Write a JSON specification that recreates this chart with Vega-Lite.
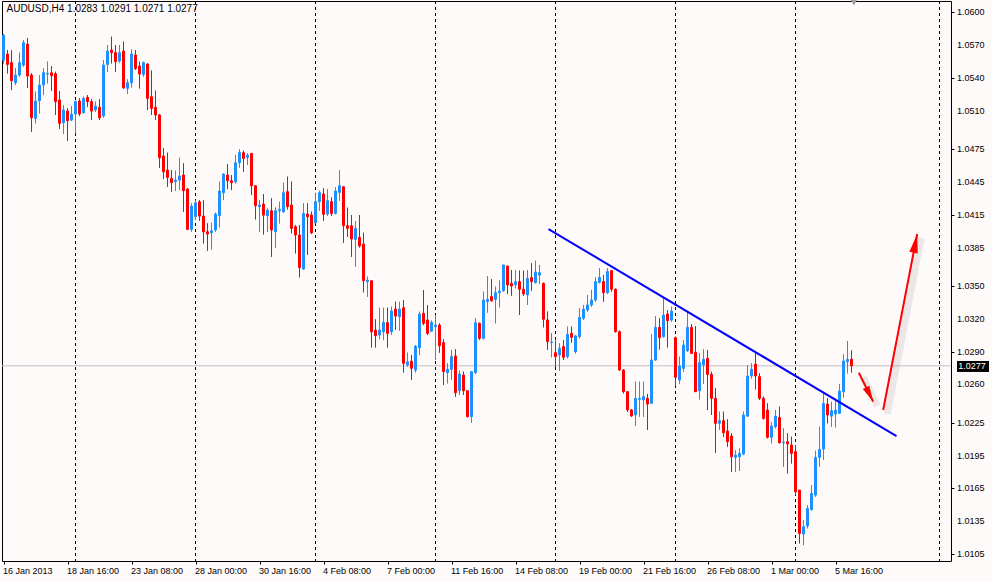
{
  "$schema": "https://vega.github.io/schema/vega-lite/v6.json",
  "width": 949,
  "height": 560,
  "autosize": {"type": "none"},
  "padding": {"left": 2, "top": 1, "right": 41, "bottom": 21},
  "background": "#FFFAFA",
  "config": {
    "view": {"stroke": "#000000", "strokeWidth": 1, "fill": "#FFFAFA"},
    "scale": {"continuousPadding": 0}
  },
  "datasets": {
    "candles": [
      {"bar":0,"open":1.0556,"high":1.0580,"low":1.0553,"close":1.0579},
      {"bar":1,"open":1.05617,"high":1.05653,"low":1.05440,"close":1.05522},
      {"bar":2,"open":1.05538,"high":1.05653,"low":1.05288,"close":1.05373},
      {"bar":3,"open":1.05355,"high":1.05486,"low":1.05334,"close":1.05425},
      {"bar":4,"open":1.05425,"high":1.05629,"low":1.05410,"close":1.05538},
      {"bar":5,"open":1.05516,"high":1.05745,"low":1.05501,"close":1.05720},
      {"bar":6,"open":1.05708,"high":1.05763,"low":1.05307,"close":1.05416},
      {"bar":7,"open":1.05425,"high":1.05440,"low":1.04908,"close":1.05035},
      {"bar":8,"open":1.05029,"high":1.05273,"low":1.04984,"close":1.05188},
      {"bar":9,"open":1.05191,"high":1.05425,"low":1.05075,"close":1.05334},
      {"bar":10,"open":1.05334,"high":1.05486,"low":1.05242,"close":1.05446},
      {"bar":11,"open":1.05434,"high":1.05547,"low":1.05349,"close":1.05440},
      {"bar":12,"open":1.05446,"high":1.05507,"low":1.05282,"close":1.05419},
      {"bar":13,"open":1.05437,"high":1.05455,"low":1.05060,"close":1.05182},
      {"bar":14,"open":1.05197,"high":1.05279,"low":1.04932,"close":1.04984},
      {"bar":15,"open":1.04990,"high":1.05151,"low":1.04886,"close":1.05106},
      {"bar":16,"open":1.05096,"high":1.05121,"low":1.04825,"close":1.05008},
      {"bar":17,"open":1.05014,"high":1.05142,"low":1.05005,"close":1.05069},
      {"bar":18,"open":1.05069,"high":1.05191,"low":1.04892,"close":1.05182},
      {"bar":19,"open":1.05188,"high":1.05212,"low":1.05051,"close":1.05069},
      {"bar":20,"open":1.05081,"high":1.05227,"low":1.05075,"close":1.05212},
      {"bar":21,"open":1.05221,"high":1.05242,"low":1.05136,"close":1.05182},
      {"bar":22,"open":1.05182,"high":1.05203,"low":1.05014,"close":1.05096},
      {"bar":23,"open":1.05106,"high":1.05182,"low":1.05090,"close":1.05142},
      {"bar":24,"open":1.05130,"high":1.05203,"low":1.05014,"close":1.05035},
      {"bar":25,"open":1.05051,"high":1.05562,"low":1.05038,"close":1.05516},
      {"bar":26,"open":1.05522,"high":1.05699,"low":1.05455,"close":1.05644},
      {"bar":27,"open":1.05653,"high":1.05775,"low":1.05532,"close":1.05629},
      {"bar":28,"open":1.05629,"high":1.05699,"low":1.05455,"close":1.05547},
      {"bar":29,"open":1.05553,"high":1.05699,"low":1.05538,"close":1.05629},
      {"bar":30,"open":1.05644,"high":1.05729,"low":1.05297,"close":1.05309},
      {"bar":31,"open":1.05303,"high":1.05385,"low":1.05252,"close":1.05355},
      {"bar":32,"open":1.05355,"high":1.05659,"low":1.05312,"close":1.05617},
      {"bar":33,"open":1.05608,"high":1.05653,"low":1.05471,"close":1.05486},
      {"bar":34,"open":1.05507,"high":1.05547,"low":1.05303,"close":1.05434},
      {"bar":35,"open":1.05431,"high":1.05547,"low":1.05410,"close":1.05538},
      {"bar":36,"open":1.05526,"high":1.05532,"low":1.05106,"close":1.05212},
      {"bar":37,"open":1.05227,"high":1.05465,"low":1.05060,"close":1.05121},
      {"bar":38,"open":1.05130,"high":1.05282,"low":1.05014,"close":1.05060},
      {"bar":39,"open":1.05060,"high":1.05070,"low":1.04579,"close":1.04670},
      {"bar":40,"open":1.04685,"high":1.04755,"low":1.04475,"close":1.04542},
      {"bar":41,"open":1.04557,"high":1.04716,"low":1.04405,"close":1.04490},
      {"bar":42,"open":1.04481,"high":1.04557,"low":1.04360,"close":1.04442},
      {"bar":43,"open":1.04451,"high":1.04551,"low":1.04366,"close":1.04466},
      {"bar":44,"open":1.04466,"high":1.04670,"low":1.04375,"close":1.04503},
      {"bar":45,"open":1.04512,"high":1.04618,"low":1.04177,"close":1.04369},
      {"bar":46,"open":1.04384,"high":1.04390,"low":1.04010,"close":1.04016},
      {"bar":47,"open":1.04016,"high":1.04253,"low":1.03994,"close":1.04229},
      {"bar":48,"open":1.04131,"high":1.04283,"low":1.04101,"close":1.04259},
      {"bar":49,"open":1.04268,"high":1.04283,"low":1.04095,"close":1.04137},
      {"bar":50,"open":1.04137,"high":1.04283,"low":1.03888,"close":1.03994},
      {"bar":51,"open":1.03994,"high":1.04070,"low":1.03821,"close":1.03973},
      {"bar":52,"open":1.03985,"high":1.04076,"low":1.03833,"close":1.04003},
      {"bar":53,"open":1.04010,"high":1.04168,"low":1.03994,"close":1.04156},
      {"bar":54,"open":1.04140,"high":1.04451,"low":1.04034,"close":1.04366},
      {"bar":55,"open":1.04350,"high":1.04527,"low":1.04283,"close":1.04521},
      {"bar":56,"open":1.04512,"high":1.04612,"low":1.04384,"close":1.04460},
      {"bar":57,"open":1.04460,"high":1.04512,"low":1.04375,"close":1.04442},
      {"bar":58,"open":1.04451,"high":1.04694,"low":1.04436,"close":1.04624},
      {"bar":59,"open":1.04624,"high":1.04746,"low":1.04579,"close":1.04719},
      {"bar":60,"open":1.04716,"high":1.04734,"low":1.04542,"close":1.04664},
      {"bar":61,"open":1.04673,"high":1.04710,"low":1.04603,"close":1.04694},
      {"bar":62,"open":1.04710,"high":1.04710,"low":1.04329,"close":1.04414},
      {"bar":63,"open":1.04414,"high":1.04420,"low":1.04107,"close":1.04232},
      {"bar":64,"open":1.04223,"high":1.04283,"low":1.03994,"close":1.04238},
      {"bar":65,"open":1.04247,"high":1.04338,"low":1.03970,"close":1.04146},
      {"bar":66,"open":1.04140,"high":1.04207,"low":1.03994,"close":1.04192},
      {"bar":67,"open":1.04186,"high":1.04299,"low":1.03766,"close":1.04010},
      {"bar":68,"open":1.03994,"high":1.04216,"low":1.03848,"close":1.04186},
      {"bar":69,"open":1.04186,"high":1.04268,"low":1.04070,"close":1.04198},
      {"bar":70,"open":1.04177,"high":1.04442,"low":1.04168,"close":1.04350},
      {"bar":71,"open":1.04360,"high":1.04497,"low":1.04198,"close":1.04223},
      {"bar":72,"open":1.04238,"high":1.04451,"low":1.03979,"close":1.04025},
      {"bar":73,"open":1.04040,"high":1.04055,"low":1.03797,"close":1.03964},
      {"bar":74,"open":1.03964,"high":1.04055,"low":1.03578,"close":1.03666},
      {"bar":75,"open":1.03654,"high":1.04253,"low":1.03645,"close":1.04162},
      {"bar":76,"open":1.04156,"high":1.04253,"low":1.03782,"close":1.04131},
      {"bar":77,"open":1.04147,"high":1.04177,"low":1.03973,"close":1.03985},
      {"bar":78,"open":1.04077,"high":1.04345,"low":1.04071,"close":1.04269},
      {"bar":79,"open":1.04269,"high":1.04369,"low":1.04186,"close":1.04351},
      {"bar":80,"open":1.04339,"high":1.04390,"low":1.04095,"close":1.04153},
      {"bar":81,"open":1.04156,"high":1.04381,"low":1.04138,"close":1.04278},
      {"bar":82,"open":1.04269,"high":1.04308,"low":1.04138,"close":1.04162},
      {"bar":83,"open":1.04162,"high":1.04399,"low":1.04153,"close":1.04366},
      {"bar":84,"open":1.04354,"high":1.04558,"low":1.04278,"close":1.04415},
      {"bar":85,"open":1.04405,"high":1.04405,"low":1.03894,"close":1.04049},
      {"bar":86,"open":1.04049,"high":1.04214,"low":1.03949,"close":1.04025},
      {"bar":87,"open":1.04049,"high":1.04147,"low":1.03766,"close":1.03928},
      {"bar":88,"open":1.03925,"high":1.04092,"low":1.03675,"close":1.04025},
      {"bar":89,"open":1.03943,"high":1.04147,"low":1.03851,"close":1.03864},
      {"bar":90,"open":1.03882,"high":1.03985,"low":1.03441,"close":1.03547},
      {"bar":91,"open":1.03538,"high":1.03584,"low":1.03401,"close":1.03553},
      {"bar":92,"open":1.03547,"high":1.03547,"low":1.02938,"close":1.03081},
      {"bar":93,"open":1.03097,"high":1.03194,"low":1.02938,"close":1.03045},
      {"bar":94,"open":1.03051,"high":1.03300,"low":1.03014,"close":1.03097},
      {"bar":95,"open":1.03081,"high":1.03300,"low":1.03005,"close":1.03167},
      {"bar":96,"open":1.03164,"high":1.03300,"low":1.02938,"close":1.03066},
      {"bar":97,"open":1.03081,"high":1.03310,"low":1.03051,"close":1.03270},
      {"bar":98,"open":1.03288,"high":1.03355,"low":1.03097,"close":1.03224},
      {"bar":99,"open":1.03218,"high":1.03355,"low":1.03090,"close":1.03288},
      {"bar":100,"open":1.03300,"high":1.03371,"low":1.02710,"close":1.02792},
      {"bar":101,"open":1.02777,"high":1.02890,"low":1.02762,"close":1.02807},
      {"bar":102,"open":1.02813,"high":1.02868,"low":1.02640,"close":1.02747},
      {"bar":103,"open":1.02731,"high":1.02960,"low":1.02710,"close":1.02950},
      {"bar":104,"open":1.02935,"high":1.03264,"low":1.02868,"close":1.03243},
      {"bar":105,"open":1.03249,"high":1.03462,"low":1.03142,"close":1.03157},
      {"bar":106,"open":1.03188,"high":1.03325,"low":1.03051,"close":1.03066},
      {"bar":107,"open":1.03087,"high":1.03182,"low":1.03081,"close":1.03167},
      {"bar":108,"open":1.03127,"high":1.03234,"low":1.02823,"close":1.03142},
      {"bar":109,"open":1.03142,"high":1.03157,"low":1.02890,"close":1.02953},
      {"bar":110,"open":1.02982,"high":1.03012,"low":1.02595,"close":1.02717},
      {"bar":111,"open":1.02708,"high":1.02793,"low":1.02610,"close":1.02738},
      {"bar":112,"open":1.02738,"high":1.02915,"low":1.02641,"close":1.02854},
      {"bar":113,"open":1.02860,"high":1.02921,"low":1.02488,"close":1.02525},
      {"bar":114,"open":1.02543,"high":1.02726,"low":1.02504,"close":1.02695},
      {"bar":115,"open":1.02686,"high":1.02717,"low":1.02504,"close":1.02543},
      {"bar":116,"open":1.02543,"high":1.02549,"low":1.02300,"close":1.02306},
      {"bar":117,"open":1.02306,"high":1.02717,"low":1.02251,"close":1.02717},
      {"bar":118,"open":1.02708,"high":1.03204,"low":1.02695,"close":1.03164},
      {"bar":119,"open":1.03158,"high":1.03164,"low":1.03006,"close":1.03021},
      {"bar":120,"open":1.03021,"high":1.03447,"low":1.03012,"close":1.03371},
      {"bar":121,"open":1.03356,"high":1.03590,"low":1.03256,"close":1.03377},
      {"bar":122,"open":1.03402,"high":1.03560,"low":1.03356,"close":1.03365},
      {"bar":123,"open":1.03377,"high":1.03493,"low":1.03158,"close":1.03438},
      {"bar":124,"open":1.03438,"high":1.03548,"low":1.03304,"close":1.03453},
      {"bar":125,"open":1.03457,"high":1.03691,"low":1.03447,"close":1.03691},
      {"bar":126,"open":1.03682,"high":1.03682,"low":1.03426,"close":1.03508},
      {"bar":127,"open":1.03523,"high":1.03645,"low":1.03411,"close":1.03499},
      {"bar":128,"open":1.03508,"high":1.03645,"low":1.03478,"close":1.03539},
      {"bar":129,"open":1.03539,"high":1.03639,"low":1.03234,"close":1.03469},
      {"bar":130,"open":1.03469,"high":1.03639,"low":1.03408,"close":1.03426},
      {"bar":131,"open":1.03417,"high":1.03645,"low":1.03326,"close":1.03569},
      {"bar":132,"open":1.03575,"high":1.03706,"low":1.03457,"close":1.03539},
      {"bar":133,"open":1.03529,"high":1.03730,"low":1.03523,"close":1.03627},
      {"bar":134,"open":1.03599,"high":1.03691,"low":1.03517,"close":1.03621},
      {"bar":135,"open":1.03523,"high":1.03529,"low":1.03122,"close":1.03195},
      {"bar":136,"open":1.03189,"high":1.03265,"low":1.02915,"close":1.02991},
      {"bar":137,"open":1.02982,"high":1.03067,"low":1.02848,"close":1.02988},
      {"bar":138,"open":1.02890,"high":1.03000,"low":1.02762,"close":1.02854},
      {"bar":139,"open":1.02869,"high":1.02975,"low":1.02726,"close":1.02930},
      {"bar":140,"open":1.02945,"high":1.03006,"low":1.02823,"close":1.02848},
      {"bar":141,"open":1.02854,"high":1.03128,"low":1.02839,"close":1.03058},
      {"bar":142,"open":1.03067,"high":1.03128,"low":1.02982,"close":1.03030},
      {"bar":143,"open":1.02899,"high":1.03052,"low":1.02884,"close":1.03043},
      {"bar":144,"open":1.03037,"high":1.03295,"low":1.03021,"close":1.03213},
      {"bar":145,"open":1.03204,"high":1.03326,"low":1.03189,"close":1.03286},
      {"bar":146,"open":1.03280,"high":1.03417,"low":1.03265,"close":1.03326},
      {"bar":147,"open":1.03326,"high":1.03463,"low":1.03310,"close":1.03371},
      {"bar":148,"open":1.03371,"high":1.03578,"low":1.03356,"close":1.03539},
      {"bar":149,"open":1.03533,"high":1.03660,"low":1.03523,"close":1.03578},
      {"bar":150,"open":1.03539,"high":1.03599,"low":1.03356,"close":1.03438},
      {"bar":151,"open":1.03438,"high":1.03660,"low":1.03426,"close":1.03630},
      {"bar":152,"open":1.03639,"high":1.03645,"low":1.03447,"close":1.03469},
      {"bar":153,"open":1.03469,"high":1.03475,"low":1.03075,"close":1.03082},
      {"bar":154,"open":1.03082,"high":1.03090,"low":1.02725,"close":1.02732},
      {"bar":155,"open":1.02732,"high":1.02740,"low":1.02519,"close":1.02534},
      {"bar":156,"open":1.02534,"high":1.02540,"low":1.02351,"close":1.02367},
      {"bar":157,"open":1.02367,"high":1.02375,"low":1.02306,"close":1.02312},
      {"bar":158,"open":1.02321,"high":1.02625,"low":1.02221,"close":1.02473},
      {"bar":159,"open":1.02464,"high":1.02625,"low":1.02306,"close":1.02473},
      {"bar":160,"open":1.02458,"high":1.02625,"low":1.02306,"close":1.02488},
      {"bar":161,"open":1.02473,"high":1.02513,"low":1.02184,"close":1.02421},
      {"bar":162,"open":1.02427,"high":1.03060,"low":1.02427,"close":1.02823},
      {"bar":163,"open":1.02823,"high":1.03225,"low":1.02817,"close":1.03121},
      {"bar":164,"open":1.03121,"high":1.03203,"low":1.02920,"close":1.03027},
      {"bar":165,"open":1.03036,"high":1.03386,"low":1.03030,"close":1.03234},
      {"bar":166,"open":1.03243,"high":1.03279,"low":1.02939,"close":1.03182},
      {"bar":167,"open":1.03188,"high":1.03310,"low":1.03173,"close":1.03270},
      {"bar":168,"open":1.03027,"high":1.03036,"low":1.02585,"close":1.02665},
      {"bar":169,"open":1.02640,"high":1.02853,"low":1.02604,"close":1.02768},
      {"bar":170,"open":1.02747,"high":1.03005,"low":1.02716,"close":1.02960},
      {"bar":171,"open":1.02908,"high":1.03264,"low":1.02899,"close":1.03121},
      {"bar":172,"open":1.03121,"high":1.03152,"low":1.02878,"close":1.02884},
      {"bar":173,"open":1.02893,"high":1.03133,"low":1.02534,"close":1.02534},
      {"bar":174,"open":1.02543,"high":1.02884,"low":1.02464,"close":1.02799},
      {"bar":175,"open":1.02777,"high":1.02920,"low":1.02604,"close":1.02829},
      {"bar":176,"open":1.02838,"high":1.02914,"low":1.02366,"close":1.02692},
      {"bar":177,"open":1.02692,"high":1.02716,"low":1.02321,"close":1.02473},
      {"bar":178,"open":1.02473,"high":1.02564,"low":1.01977,"close":1.02245},
      {"bar":179,"open":1.02245,"high":1.02351,"low":1.02186,"close":1.02269},
      {"bar":180,"open":1.02269,"high":1.02351,"low":1.02123,"close":1.02159},
      {"bar":181,"open":1.02174,"high":1.02281,"low":1.02031,"close":1.02077},
      {"bar":182,"open":1.02129,"high":1.02153,"low":1.01803,"close":1.01940},
      {"bar":183,"open":1.01934,"high":1.02001,"low":1.01803,"close":1.01955},
      {"bar":184,"open":1.01940,"high":1.02016,"low":1.01812,"close":1.01971},
      {"bar":185,"open":1.01964,"high":1.02351,"low":1.01955,"close":1.02321},
      {"bar":186,"open":1.02311,"high":1.02777,"low":1.02305,"close":1.02677},
      {"bar":187,"open":1.02677,"high":1.02792,"low":1.02655,"close":1.02738},
      {"bar":188,"open":1.02786,"high":1.02884,"low":1.02555,"close":1.02677},
      {"bar":189,"open":1.02671,"high":1.02701,"low":1.02458,"close":1.02473},
      {"bar":190,"open":1.02473,"high":1.02488,"low":1.02281,"close":1.02290},
      {"bar":191,"open":1.02366,"high":1.02427,"low":1.02108,"close":1.02117},
      {"bar":192,"open":1.02117,"high":1.02251,"low":1.02062,"close":1.02220},
      {"bar":193,"open":1.02214,"high":1.02366,"low":1.02199,"close":1.02311},
      {"bar":194,"open":1.02299,"high":1.02397,"low":1.02062,"close":1.02068},
      {"bar":195,"open":1.02068,"high":1.02199,"low":1.01849,"close":1.02074},
      {"bar":196,"open":1.02077,"high":1.02153,"low":1.01788,"close":1.02056},
      {"bar":197,"open":1.02047,"high":1.02123,"low":1.01879,"close":1.01971},
      {"bar":198,"open":1.01986,"high":1.02047,"low":1.01590,"close":1.01620},
      {"bar":199,"open":1.01636,"high":1.01636,"low":1.01149,"close":1.01240},
      {"bar":200,"open":1.01234,"high":1.01362,"low":1.01133,"close":1.01301},
      {"bar":201,"open":1.01307,"high":1.01499,"low":1.01286,"close":1.01468},
      {"bar":202,"open":1.01459,"high":1.01681,"low":1.01447,"close":1.01605},
      {"bar":203,"open":1.01590,"high":1.01995,"low":1.01575,"close":1.01934},
      {"bar":204,"open":1.01934,"high":1.02214,"low":1.01849,"close":1.02007},
      {"bar":205,"open":1.02010,"high":1.02518,"low":1.01910,"close":1.02427},
      {"bar":206,"open":1.02421,"high":1.02473,"low":1.02245,"close":1.02321},
      {"bar":207,"open":1.02311,"high":1.02442,"low":1.02214,"close":1.02360},
      {"bar":208,"open":1.02330,"high":1.02473,"low":1.02208,"close":1.02366},
      {"bar":209,"open":1.02336,"high":1.02604,"low":1.02330,"close":1.02540},
      {"bar":210,"open":1.02534,"high":1.02875,"low":1.02482,"close":1.02814},
      {"bar":211,"open":1.02808,"high":1.02996,"low":1.02701,"close":1.02829},
      {"bar":212,"open":1.0283,"high":1.0291,"low":1.0271,"close":1.0277}
    ],
    "priceTicks": [
      {"low":1.0600},{"low":1.0570},{"low":1.0540},{"low":1.0510},{"low":1.0475},{"low":1.0445},{"low":1.0415},{"low":1.0385},{"low":1.0350},
      {"low":1.0320},{"low":1.0290},{"low":1.0260},{"low":1.0225},{"low":1.0195},{"low":1.0165},{"low":1.0135},{"low":1.0105}
    ]
  },
  "layer": [
    {
      "data": {"name": "candles"},
      "mark": {"type": "rule", "strokeWidth": 1},
      "encoding": {
        "x": {"field": "bar", "type": "quantitative", "scale": {"domain": [-0.375, 236.875], "zero": false, "nice": false, "padding": 0},
          "axis": {"title": null, "values": [0,16,32,48,64,80,96,112,128,144,160,176,192,208],
            "labelExpr": "['16 Jan 2013','18 Jan 16:00','23 Jan 08:00','28 Jan 00:00','30 Jan 16:00','4 Feb 08:00','7 Feb 00:00','11 Feb 16:00','14 Feb 08:00','19 Feb 00:00','21 Feb 16:00','26 Feb 08:00','1 Mar 00:00','5 Mar 16:00'][round(datum.value/16)]",
            "domain": false, "grid": false, "ticks": true, "tickSize": 3, "tickColor": "#000000",
            "labelAlign": "left", "labelOffset": -1, "labelFont": "Liberation Sans", "labelFontSize": 9, "labelColor": "#000000",
            "labelPadding": 2, "labelFlush": false, "labelOverlap": false, "labelBound": false}},
        "y": {"field": "low", "type": "quantitative", "scale": {"domain": [1.00988, 1.06101], "zero": false, "nice": false, "padding": 0},
          "axis": {"title": null, "orient": "right",
            "values": [1.0600,1.0570,1.0540,1.0510,1.0475,1.0445,1.0415,1.0385,1.0350,1.0320,1.0290,1.0260,1.0225,1.0195,1.0165,1.0135,1.0105],
            "labels": false, "domain": false, "grid": false, "tickSize": 3, "tickColor": "#000000"}},
        "y2": {"field": "high"},
        "color": {"condition": {"test": "datum.close >= datum.open", "value": "#1E90FF"}, "value": "#FF0000"}
      }
    },
    {
      "data": {"name": "priceTicks"},
      "mark": {"type": "text", "align": "left", "baseline": "middle", "font": "Liberation Sans", "fontSize": 9, "color": "#000000"},
      "encoding": {
        "x": {"datum": 238.375, "type": "quantitative"},
        "y": {"field": "low", "type": "quantitative"},
        "text": {"field": "low", "type": "quantitative", "format": ".4f"}
      }
    },
    {
      "data": {"values": [{"bar":18},{"bar":48},{"bar":78},{"bar":108},{"bar":138},{"bar":168},{"bar":198},{"bar":234}]},
      "mark": {"type": "rule", "color": "#000000", "strokeWidth": 1, "strokeDash": [3, 3]},
      "encoding": {
        "x": {"field": "bar", "type": "quantitative"}
      }
    },
    {
      "data": {"values": [{"low": 1.0277}]},
      "mark": {"type": "rule", "color": "#C0C0C0", "strokeWidth": 1},
      "encoding": {
        "y": {"field": "low", "type": "quantitative"}
      }
    },
    {
      "data": {"name": "candles"},
      "mark": {"type": "rule", "strokeWidth": 1},
      "encoding": {
        "x": {"field": "bar", "type": "quantitative"},
        "y": {"field": "low", "type": "quantitative"},
        "y2": {"field": "high"},
        "color": {"condition": {"test": "datum.close >= datum.open", "value": "#1E90FF"}, "value": "#FF0000"}
      }
    },
    {
      "data": {"name": "candles"},
      "mark": {"type": "bar", "size": 2, "strokeWidth": 1},
      "encoding": {
        "x": {"field": "bar", "type": "quantitative"},
        "y": {"field": "open", "type": "quantitative"},
        "y2": {"field": "close"},
        "fill": {"condition": {"test": "datum.close >= datum.open", "value": "#1E90FF"}, "value": "#FF0000"},
        "stroke": {"condition": {"test": "datum.close >= datum.open", "value": "#1E90FF"}, "value": "#FF0000"}
      }
    },
    {
      "data": {"values": [{"bar": 136.25, "low": 1.04019, "bar2": 223.25, "high": 1.02129}]},
      "mark": {"type": "rule", "color": "#0000FF", "strokeWidth": 2},
      "encoding": {
        "x": {"field": "bar", "type": "quantitative"},
        "y": {"field": "low", "type": "quantitative"},
        "x2": {"field": "bar2"},
        "y2": {"field": "high"}
      }
    },
    {
      "data": {"values": [{"bar": 213.83, "low": 1.02707, "bar2": 217.42, "high": 1.02443}, {"bar": 219.92, "low": 1.02367, "bar2": 228.42, "high": 1.03974}]},
      "mark": {"type": "rule", "color": "#808080", "opacity": 0.15, "strokeWidth": 7, "xOffset": 4, "x2Offset": 4, "yOffset": 4, "y2Offset": 4},
      "encoding": {
        "x": {"field": "bar", "type": "quantitative"},
        "y": {"field": "low", "type": "quantitative"},
        "x2": {"field": "bar2"},
        "y2": {"field": "high"}
      }
    },
    {
      "data": {"values": [{"bar": 213.83, "low": 1.02707, "bar2": 217.42, "high": 1.02443}, {"bar": 219.92, "low": 1.02367, "bar2": 228.42, "high": 1.03974}]},
      "mark": {"type": "rule", "color": "#FF0000", "strokeWidth": 2},
      "encoding": {
        "x": {"field": "bar", "type": "quantitative"},
        "y": {"field": "low", "type": "quantitative"},
        "x2": {"field": "bar2"},
        "y2": {"field": "high"}
      }
    },
    {
      "data": {"values": [{"bar": 217.42, "low": 1.02443}]},
      "mark": {"type": "point", "shape": "M0,0L0.45,2L-0.45,2Z", "filled": true, "color": "#FF0000", "opacity": 1, "size": 256, "angle": 153.6, "strokeWidth": 0},
      "encoding": {
        "x": {"field": "bar", "type": "quantitative"},
        "y": {"field": "low", "type": "quantitative"}
      }
    },
    {
      "data": {"values": [{"bar": 228.42, "low": 1.03974}]},
      "mark": {"type": "point", "shape": "M0,0L0.45,2L-0.45,2Z", "filled": true, "color": "#FF0000", "opacity": 1, "size": 361, "angle": 10.9, "strokeWidth": 0},
      "encoding": {
        "x": {"field": "bar", "type": "quantitative"},
        "y": {"field": "low", "type": "quantitative"}
      }
    },
    {
      "data": {"values": [{"bar": 212.6, "low": 1.06087}]},
      "mark": {"type": "point", "shape": "triangle-down", "filled": true, "color": "#A0A0A0", "opacity": 1, "size": 45, "strokeWidth": 0},
      "encoding": {
        "x": {"field": "bar", "type": "quantitative"},
        "y": {"field": "low", "type": "quantitative"}
      }
    },
    {
      "data": {"values": [{"bar": 0.75, "low": 1.06028, "label": "AUDUSD,H4  1.0283 1.0291 1.0271 1.0277"}]},
      "mark": {"type": "text", "align": "left", "baseline": "middle", "font": "Liberation Sans", "fontSize": 10, "color": "#000000"},
      "encoding": {
        "x": {"field": "bar", "type": "quantitative"},
        "y": {"field": "low", "type": "quantitative"},
        "text": {"field": "label"}
      }
    },
    {
      "data": {"values": [{"bar": 238.375, "bar2": 246.375, "low": 1.02814, "high": 1.02714}]},
      "mark": {"type": "rect", "color": "#000000"},
      "encoding": {
        "x": {"field": "bar", "type": "quantitative"},
        "x2": {"field": "bar2"},
        "y": {"field": "low", "type": "quantitative"},
        "y2": {"field": "high"}
      }
    },
    {
      "data": {"values": [{"bar": 238.7, "low": 1.0277, "label": "1.0277"}]},
      "mark": {"type": "text", "align": "left", "baseline": "middle", "font": "Liberation Sans", "fontSize": 9, "color": "#FFFFFF"},
      "encoding": {
        "x": {"field": "bar", "type": "quantitative"},
        "y": {"field": "low", "type": "quantitative"},
        "text": {"field": "label"}
      }
    }
  ]
}
